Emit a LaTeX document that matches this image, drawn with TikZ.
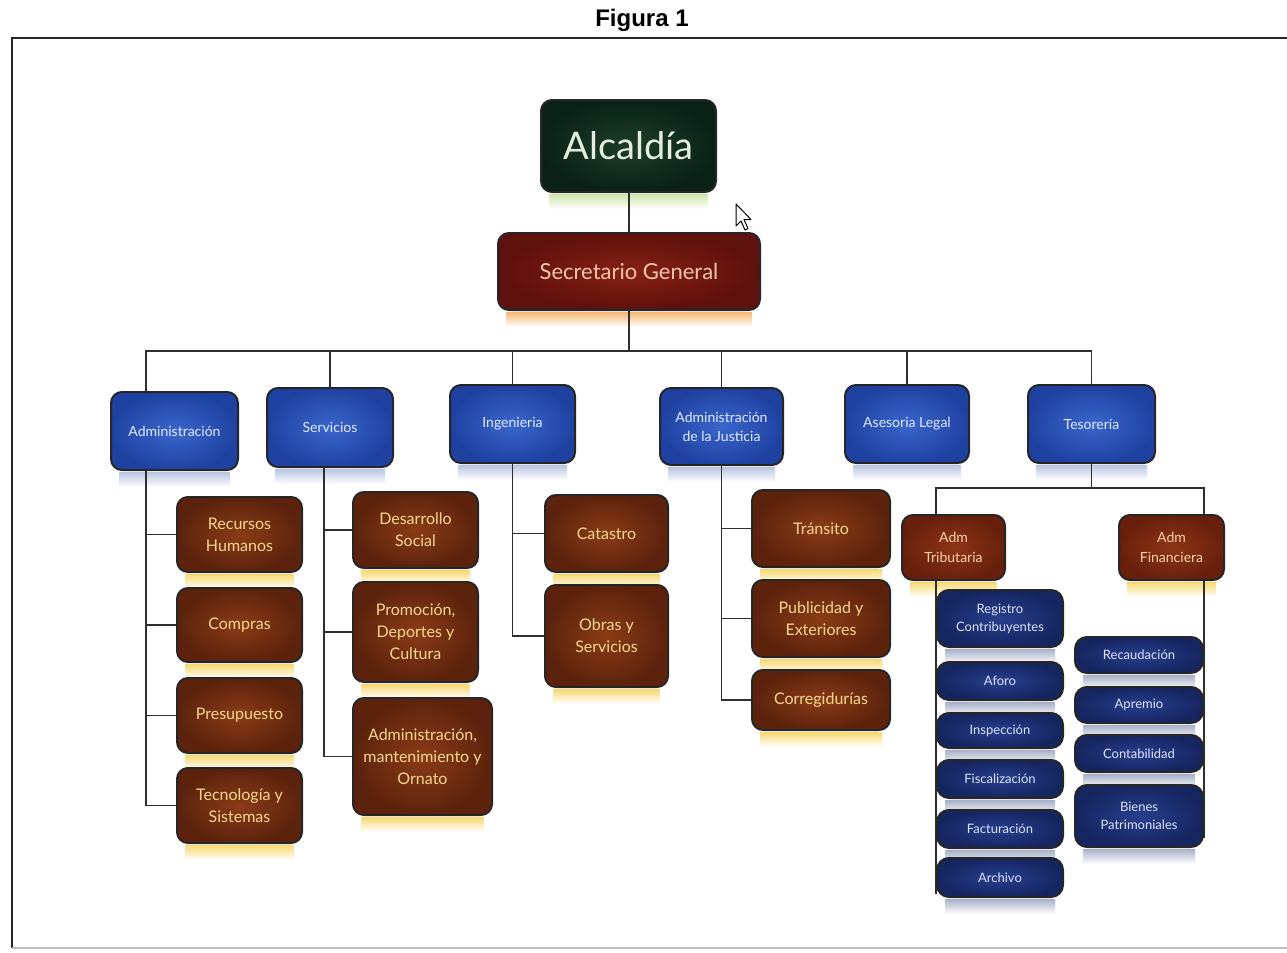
\documentclass[tikz,border=0pt]{standalone}
\usepackage{fontspec}
\setmainfont{Lato}
\usetikzlibrary{calc,backgrounds}

\definecolor{lineC}{HTML}{2E2E2E}
\definecolor{alcIn}{HTML}{1C3D2A}\definecolor{alcOut}{HTML}{0A2216}\definecolor{alcTx}{HTML}{E4EEDC}
\definecolor{secIn}{HTML}{862016}\definecolor{secOut}{HTML}{5E100C}\definecolor{secTx}{HTML}{F2C7A6}
\definecolor{bluIn}{HTML}{3A66CC}\definecolor{bluOut}{HTML}{1F42A2}\definecolor{bluTx}{HTML}{E2E9FF}
\definecolor{brnIn}{HTML}{8A3C16}\definecolor{brnOut}{HTML}{5C220C}\definecolor{brnTx}{HTML}{F5D88E}
\definecolor{admIn}{HTML}{8E3416}\definecolor{admOut}{HTML}{68200C}\definecolor{admTx}{HTML}{F6D2A6}
\definecolor{navIn}{HTML}{283F8E}\definecolor{navOut}{HTML}{152560}\definecolor{navTx}{HTML}{DCE2F4}
\definecolor{glowG}{HTML}{CFE6A8}\definecolor{glowO}{HTML}{F6B872}
\definecolor{glowY}{HTML}{F6D870}\definecolor{glowB}{HTML}{B8C4E2}
\definecolor{glowN}{HTML}{A8B0C8}

% a box given by its corner pixels: style, name, x1, y1, x2, y2, text
\newcommand\orgbox[7]{%
  \node[#1, minimum width={(#5-#3)*0.5pt}, minimum height={(#6-#4)*0.5pt}]
    (#2) at ({(#3+#5)/2},{(#4+#6)/2}) {#7};}

\tikzset{
  basebox/.style={draw=black!85, line width=1pt, rounded corners=5.5pt,
    inner sep=1pt, align=center, shading=radial},
  topbox/.style={basebox, inner color=alcIn, outer color=alcOut,
    text=alcTx, font=\fontsize{19}{22}\selectfont},
  secbox/.style={basebox, inner color=secIn, outer color=secOut,
    text=secTx, font=\fontsize{11}{13}\selectfont},
  deptbox/.style={basebox, inner color=bluIn, outer color=bluOut,
    text=bluTx, font=\fontsize{7}{9.5}\selectfont},
  unitbox/.style={basebox, inner color=brnIn, outer color=brnOut,
    text=brnTx, font=\fontsize{8}{11}\selectfont},
  admbox/.style={basebox, inner color=admIn, outer color=admOut,
    text=admTx, font=\fontsize{7}{10}\selectfont},
  officebox/.style={basebox, rounded corners=6pt, inner color=navIn,
    outer color=navOut, text=navTx, font=\fontsize{6.5}{9}\selectfont},
  link/.style={draw=lineC, line width=0.7pt},
}

\begin{document}
\begin{tikzpicture}[x=0.5pt, y=-0.5pt]
\useasboundingbox (0,0) rectangle (1287,953);

% page frame and caption
\node[font=\fontspec{Liberation Sans}\bfseries\fontsize{12}{14}\selectfont] (title) at (642,20) {Figura 1};
\draw[black!85, line width=0.8pt] (1287,38) -- (12,38) -- (12,948);
\draw[black!25, line width=0.6pt] (12,948) -- (1287,948);

% top levels
\orgbox{topbox}{alc}{541}{100}{716}{192}{Alcaldía}
\orgbox{secbox}{sec}{498}{233}{760}{310}{Secretario General}

% departments
\orgbox{deptbox}{adm}{111}{392}{238}{470}{Administración}
\orgbox{deptbox}{ser}{267}{388}{393}{467}{Servicios}
\orgbox{deptbox}{ing}{450}{385}{575}{463}{Ingenieria}
\orgbox{deptbox}{jus}{660}{388}{783}{465}{Administración\\de la Justicia}
\orgbox{deptbox}{leg}{845}{385}{969}{463}{Asesoria Legal}
\orgbox{deptbox}{tes}{1028}{385}{1155}{463}{Tesorería}

% Administración
\orgbox{unitbox}{rh}{177}{497}{302}{572}{Recursos\\Humanos}
\orgbox{unitbox}{com}{177}{588}{302}{662}{Compras}
\orgbox{unitbox}{pre}{177}{678}{302}{753}{Presupuesto}
\orgbox{unitbox}{tec}{177}{768}{302}{843}{Tecnología y\\Sistemas}

% Servicios
\orgbox{unitbox}{des}{353}{492}{478}{568}{Desarrollo\\Social}
\orgbox{unitbox}{pro}{353}{582}{478}{682}{Promoción,\\Deportes y\\Cultura}
\orgbox{unitbox}{mant}{353}{698}{492}{815}{Administración,\\mantenimiento y\\Ornato}

% Ingeniería
\orgbox{unitbox}{cat}{545}{495}{668}{572}{Catastro}
\orgbox{unitbox}{obr}{545}{585}{668}{687}{Obras y\\Servicios}

% Administración de la Justicia
\orgbox{unitbox}{tra}{752}{490}{890}{567}{Tránsito}
\orgbox{unitbox}{pub}{752}{580}{890}{657}{Publicidad y\\Exteriores}
\orgbox{unitbox}{cor}{752}{670}{890}{730}{Corregidurías}

% Tesorería
\orgbox{admbox}{tri}{902}{515}{1005}{580}{Adm\\Tributaria}
\orgbox{admbox}{fin}{1119}{515}{1224}{580}{Adm\\Financiera}

\orgbox{officebox}{reg}{937}{590}{1063}{647}{Registro\\Contribuyentes}
\orgbox{officebox}{afo}{937}{662}{1063}{700}{Aforo}
\orgbox{officebox}{ins}{937}{713}{1063}{748}{Inspección}
\orgbox{officebox}{fis}{937}{760}{1063}{798}{Fiscalización}
\orgbox{officebox}{fac}{937}{810}{1063}{848}{Facturación}
\orgbox{officebox}{arc}{937}{858}{1063}{897}{Archivo}

\orgbox{officebox}{rec}{1075}{637}{1203}{673}{Recaudación}
\orgbox{officebox}{apr}{1075}{687}{1203}{723}{Apremio}
\orgbox{officebox}{con}{1075}{735}{1203}{772}{Contabilidad}
\orgbox{officebox}{bie}{1075}{785}{1203}{847}{Bienes\\Patrimoniales}

\begin{scope}[on background layer]
  % soft reflections under the boxes
  \foreach \n/\c in {alc/glowG, sec/glowO,
      adm/glowB, ser/glowB, ing/glowB, jus/glowB, leg/glowB, tes/glowB,
      rh/glowY, com/glowY, pre/glowY, tec/glowY, des/glowY, pro/glowY,
      mant/glowY, cat/glowY, obr/glowY, tra/glowY, pub/glowY, cor/glowY,
      tri/glowY, fin/glowY,
      reg/glowN, afo/glowN, ins/glowN, fis/glowN, fac/glowN, arc/glowN,
      rec/glowN, apr/glowN, con/glowN, bie/glowN}
    \shade[top color=\c, bottom color=white]
      ($(\n.south west)+(9,1)$) rectangle ($(\n.south east)+(-9,16)$);

  % connectors
  \draw[link] (sec.north |- alc.south) -- (sec.north);
  \draw[link] (sec.south) -- ++(0,40) coordinate (bus);
  \draw[link] (bus) -| ($(adm.north west)+(36,0)$);
  \draw[link] (bus) -| (ser.north);
  \draw[link] (bus) -| (ing.north);
  \draw[link] (bus) -| (jus.north);
  \draw[link] (bus) -| (leg.north);
  \draw[link] (bus) -| (tes.north);

  \foreach \c in {rh, com, pre, tec}
    \draw[link] ($(adm.south west)+(36,0)$) |- (\c.west);
  \foreach \c in {des, pro, mant}
    \draw[link] ($(ser.south west)+(58,0)$) |- (\c.west);
  \foreach \c in {cat, obr}
    \draw[link] (ing.south) |- (\c.west);
  \foreach \c in {tra, pub, cor}
    \draw[link] (jus.south) |- (\c.west);

  \draw[link] (tes.south) -- ++(0,24) coordinate (tbus);
  \draw[link] (tbus) -| (tri.north -| reg.west);
  \draw[link] (tbus) -| (fin.north -| rec.east);
  \draw[link] (tri.south -| reg.west) -- ($(arc.south west)+(0,-4)$);
  \draw[link] (fin.south -| rec.east) -- ($(bie.south east)+(0,-10)$);
\end{scope}

% mouse pointer
\draw[black, line width=0.5pt, fill=white, line join=round]
  (736,204) -- ++(0,22) -- ++(5,-5) -- ++(4,9) -- ++(3,-1.5) -- ++(-4,-9)
  -- ++(7,0) -- cycle;
\end{tikzpicture}
\end{document}
